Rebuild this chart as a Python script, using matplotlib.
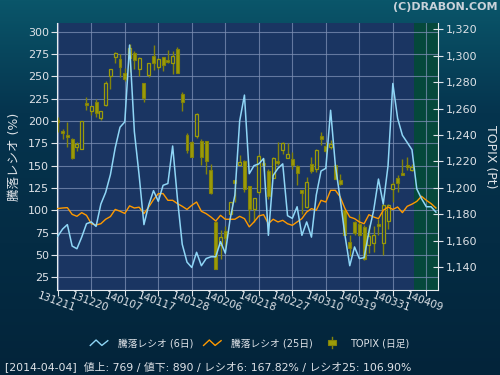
import numpy as np
import matplotlib
matplotlib.use('Agg')
import matplotlib.pyplot as plt
from matplotlib.lines import Line2D
from matplotlib.patches import Rectangle
from matplotlib.legend_handler import HandlerBase
from matplotlib.transforms import blended_transform_factory

plt.rcParams['font.family'] = ['DejaVu Sans', 'Noto Sans CJK JP']

# ---------------- data ----------------
tick_labels = ['131211', '131220', '140107', '140117', '140128', '140206',
               '140218', '140227', '140310', '140319', '140331', '140409']
tick_pos = [0, 7, 14, 21, 28, 35, 42, 49, 56, 63, 70, 77]

ratio6 = [71, 79, 84, 60, 57, 70, 85, 87, 82, 107,
          120, 140, 170, 193, 199, 285, 188, 139, 84, 106,
          122, 110, 128, 130, 172, 113, 62, 42, 36, 53,
          38, 46, 48, 48, 65, 52, 90, 117, 200, 229,
          141, 150, 152, 158, 72, 139, 147, 152, 94, 91,
          104, 72, 87, 70, 117, 144, 147, 212, 150, 113,
          72, 38, 59, 46, 47, 76, 100, 135, 107, 150,
          242, 203, 184, 176, 167.82, 124, 113, 104, 104, 98]

ratio25 = [102, 102.6, 103, 95.5, 93.3, 97.4, 94.4, 85, 83.5, 85,
           90, 93, 101, 99, 96.5, 105, 102.6, 103.5, 96.3, 103.7,
           112, 118.7, 118.7, 111.2, 111.2, 107.5, 104.5, 101, 105.6, 109.3,
           98.9, 96.3, 92.5, 88, 94.4, 90, 90, 90, 93.3, 90.7,
           81.5, 87, 93.7, 95.1, 85, 90, 87, 88.8, 85, 83.2,
           87, 90.7, 98.1, 101.9, 100, 111.2, 109.3, 122.4, 122.4, 115,
           101.9, 92.5, 90.7, 87, 85, 95.1, 92.5, 90.7, 100, 103.7,
           101, 103.7, 97.4, 104.5, 106.9, 110, 115.7, 111.2, 107.5, 102.6]

opens = [1251, 1243.2, 1239.9, 1236.9, 1231, 1229.5, 1264, 1258.3, 1264.9, 1252.8,
         1262.9, 1284.3, 1298.7, 1297.2, 1287.1, 1298, 1302, 1289.6, 1279.3, 1285.1,
         1299.7, 1291.7, 1298.7, 1296.7, 1294.2, 1304.8, 1271, 1240.2, 1234.6, 1239.1,
         1235.4, 1235.1, 1213.6, 1174, 1156.8, 1167.2, 1180.3, 1205.6, 1216.9, 1220,
         1201.3, 1184, 1196.7, 1218.7, 1212.4, 1207.6, 1220.2, 1228.3, 1222.7, 1222,
         1216.4, 1198.2, 1185.4, 1218.2, 1214.4, 1239.1, 1231.6, 1230.8, 1216.9, 1205.6,
         1182.8, 1158.8, 1174, 1172.7, 1170.2, 1156.8, 1158.3, 1172.7, 1158.3, 1174.5,
         1198.7, 1207.6, 1211.1, 1217.4, 1213.1]
highs = [1253.5, 1244.2, 1249.7, 1237.4, 1234.6, 1250.5, 1268.7, 1262, 1266.9, 1258,
         1280.8, 1290, 1302.8, 1301.5, 1290.4, 1309, 1303.3, 1299.2, 1279.5, 1294.5,
         1307.8, 1298, 1299, 1304, 1303.8, 1306.3, 1272.5, 1241.4, 1235.5, 1256.8,
         1236.6, 1235.5, 1217.7, 1174.7, 1167.7, 1171, 1189.5, 1206, 1225, 1221,
         1201.5, 1192.5, 1225.8, 1222, 1214.4, 1223, 1234.6, 1234.6, 1233.8, 1227,
         1217.4, 1198.5, 1208, 1223.2, 1229.5, 1242.2, 1234.6, 1235.9, 1218.2, 1210.6,
         1183, 1163.9, 1174.5, 1180.3, 1171.5, 1171.5, 1171, 1176.5, 1187.9, 1187.9,
         1204.3, 1209.3, 1222, 1223.2, 1218.2]
lows = [1242, 1236.6, 1231, 1222, 1228, 1229, 1258.6, 1255.3, 1253.5, 1251,
        1261.9, 1275, 1294.7, 1283.8, 1281, 1288, 1290.2, 1284.6, 1264.9, 1283.6,
        1289.1, 1290, 1288.6, 1294.7, 1286.4, 1287, 1258.3, 1226.5, 1223.5, 1237.9,
        1216.9, 1210.6, 1195.5, 1138.5, 1146.2, 1153.8, 1180, 1189.1, 1216.9, 1196.7,
        1174, 1174, 1195.5, 1213, 1191.7, 1207, 1216.9, 1225.8, 1222.5, 1214.4,
        1201.8, 1180.3, 1185, 1211, 1211.9, 1232.6, 1226.5, 1229.5, 1206.5, 1201.8,
        1164, 1148.2, 1163.9, 1163.5, 1145.5, 1150.8, 1151.3, 1164.4, 1148.7, 1168.4,
        1189.1, 1196.7, 1209.5, 1213.1, 1213]
closes = [1250, 1241.2, 1238.4, 1222.5, 1233, 1250.3, 1263, 1261.6, 1256.8, 1257.8,
          1279.3, 1289.6, 1302, 1291.4, 1282.6, 1305.8, 1296.5, 1298.2, 1268.2, 1294.2,
          1294.2, 1297.2, 1293.2, 1295.2, 1299.7, 1287.1, 1264.6, 1228.8, 1223.5, 1256,
          1223.2, 1220.5, 1196, 1138.6, 1162.6, 1161.9, 1189.1, 1203.8, 1219.2, 1199.2,
          1183.6, 1192.2, 1223.7, 1216.9, 1193.7, 1222.5, 1218.9, 1233.8, 1225.3, 1216.9,
          1211.4, 1196.2, 1204, 1212.4, 1228.3, 1236.6, 1227.5, 1233.3, 1206.8, 1203,
          1164.4, 1154.5, 1165.9, 1163.9, 1145.7, 1163.1, 1163.9, 1171, 1186.6, 1186.6,
          1202.5, 1203.8, 1209.8, 1215.7, 1215.7]

ratio_ticks = [25, 50, 75, 100, 125, 150, 175, 200, 225, 250, 275, 300]
topix_ticks = [1140, 1160, 1180, 1200, 1220, 1240, 1260, 1280, 1300, 1320]

status = '[2014-04-04]  値上: 769 / 値下: 890 / レシオ6: 167.82% / レシオ25: 106.90%'

# ---------------- styles ----------------
C_PLOT = '#1a3562'
C_GREEN = '#05483b'
C_GRID = '#7d8fb4'
C_TXT = '#dfe3e8'
C_BLUE = '#8fd6f6'
C_ORANGE = '#ff9a00'
C_CANDLE = '#9c9c08'
C_CEDGE = '#83830a'

fig = plt.figure(figsize=(5, 3.75), dpi=100)

# background gradient
bg = fig.add_axes([0, 0, 1, 1], zorder=-10)
t = np.linspace(0, 1, 256)[:, None]
top = np.array([10, 86, 106]) / 255
mid = np.array([5, 52, 78]) / 255
bot = np.array([3, 36, 58]) / 255
w = np.clip(t / 0.3, 0, 1)
w2 = np.clip((t - 0.3) / 0.7, 0, 1)
col = np.where(t < 0.3, top * (1 - w) + mid * w, mid * (1 - w2) + bot * w2)
grad = np.repeat(col[:, None, :], 2, axis=1).reshape(256, 2, 3)
bg.imshow(grad, aspect='auto', extent=[0, 1, 0, 1])
bg.axis('off')

L, R, T, B = 57.3 / 500, 438.3 / 500, 1 - 23 / 375, 1 - 290 / 375
ax2 = fig.add_axes([L, B, R - L, T - B])   # TOPIX (right)
ax = fig.add_axes([L, B, R - L, T - B], sharex=ax2)  # ratio (left)
ax.set_zorder(ax2.get_zorder() + 1)
ax.patch.set_visible(False)
ax2.set_facecolor(C_PLOT)

n = len(ratio6)
x = np.arange(n)
xc = np.arange(len(opens))

ax2.set_xlim(-0.1, 79.5)
ax.set_ylim(10.8, 309.7)
ax2.set_ylim(1122.5, 1324.8)

# green future region
ax2.axvspan(74.35, 79.5, color=C_GREEN, zorder=0.5, lw=0)

# grid (drawn under the candles)
for p in tick_pos:
    ax2.axvline(p, color=C_GRID, lw=0.8, alpha=0.75, zorder=1)
tr = blended_transform_factory(ax2.transAxes, ax.transData)
for v in ratio_ticks:
    ax2.plot([0, 1], [v, v], transform=tr, color=C_GRID, lw=0.8, alpha=0.75, zorder=1)

# candles
o = np.array(opens); c = np.array(closes); h = np.array(highs); lo = np.array(lows)
ax2.vlines(xc, lo, h, color=C_CEDGE, lw=1.0, zorder=2)
up = c >= o
body_b = np.minimum(o, c)
body_h = np.maximum(np.abs(c - o), 0.8)
ax2.bar(xc[~up], body_h[~up], bottom=body_b[~up], width=0.62,
        color=C_CANDLE, edgecolor=C_CEDGE, lw=0.8, zorder=3)
ax2.bar(xc[up], body_h[up], bottom=body_b[up], width=0.62,
        color=C_PLOT, edgecolor=C_CANDLE, lw=0.9, zorder=3)

# ratio lines
ax.plot(x, ratio25, color=C_ORANGE, lw=1.0, zorder=4)
ax.plot(x, ratio6, color=C_BLUE, lw=1.1, zorder=5)

# axes styling
for a in (ax, ax2):
    for s in a.spines.values():
        s.set_visible(False)
ax.spines['left'].set_visible(True)
ax.spines['left'].set_color('#e8ecf0')
ax.spines['bottom'].set_visible(True)
ax.spines['bottom'].set_color('#e8ecf0')
ax2.spines['right'].set_visible(True)
ax2.spines['right'].set_color('#e8ecf0')

ax.set_yticks(ratio_ticks)
ax.set_yticklabels([str(v) for v in ratio_ticks])
ax.tick_params(axis='y', left=True, right=False, labelleft=True, labelright=False,
               colors=C_TXT, labelsize=8, length=4, width=0.8, direction='out', pad=2)
ax2.yaxis.tick_right()
ax2.set_yticks(topix_ticks)
ax2.set_yticklabels([f'{v:,}' for v in topix_ticks])
ax2.tick_params(axis='y', right=True, left=False, labelright=True, labelleft=False,
                colors=C_TXT, labelsize=8, length=7, width=0.8, direction='inout', pad=2)

ax.set_xticks(tick_pos)
ax.set_xticklabels(tick_labels, rotation=-20, rotation_mode='anchor', ha='center', va='top')
ax.tick_params(axis='x', colors=C_TXT, labelsize=7.5, length=4, width=0.8, direction='out', pad=1)
ax2.tick_params(axis='x', bottom=False, labelbottom=False)

ax.set_ylabel('騰落レシオ (%)', color=C_TXT, fontsize=9, labelpad=5)
ax2.yaxis.set_label_position('right')
ax2.set_ylabel('TOPIX (Pt)', color=C_TXT, fontsize=9, rotation=-90, labelpad=14)

fig.text(0.994, 0.981, '(C)DRABON.COM', color='#c9d2da', fontsize=8, fontweight='bold',
         ha='right', va='center')
fig.text(0.01, 0.022, status, color=C_TXT, fontsize=7.8, ha='left', va='center')


# legend
class ZigZag(HandlerBase):
    def create_artists(self, legend, orig_handle, xdescent, ydescent, width, height, fontsize, trans):
        xs = np.array([0.0, 0.33, 0.66, 1.0]) * width - xdescent
        ys = np.array([0.1, 0.9, 0.1, 0.8]) * height - ydescent
        ln = Line2D(xs, ys, color=orig_handle.get_color(), lw=orig_handle.get_linewidth())
        ln.set_transform(trans)
        return [ln]


class CandleIcon(HandlerBase):
    def create_artists(self, legend, orig_handle, xdescent, ydescent, width, height, fontsize, trans):
        cx = width / 2 - xdescent
        wick = Line2D([cx, cx], [-ydescent - 0.3 * height, height * 1.3 - ydescent],
                      color=C_CEDGE, lw=1.0)
        wick.set_transform(trans)
        r = Rectangle((cx - 3, -ydescent + 0.1 * height), 6, 0.8 * height,
                      facecolor=C_CANDLE, edgecolor=C_CEDGE, lw=0.8)
        r.set_transform(trans)
        return [wick, r]


h6 = Line2D([], [], color=C_BLUE, lw=1.0)
h25 = Line2D([], [], color=C_ORANGE, lw=1.0)
hc = Line2D([], [], color=C_CANDLE)
leg = fig.legend([h6, h25, hc], ['騰落レシオ (6日)', '騰落レシオ (25日)', 'TOPIX (日足)'],
                 loc='center', bbox_to_anchor=(0.5, 0.085), ncol=3, frameon=False,
                 fontsize=7, handlelength=1.8, columnspacing=1.1, handletextpad=1.0,
                 labelcolor=C_TXT,
                 handler_map={h6: ZigZag(), h25: ZigZag(), hc: CandleIcon()})

fig.savefig('out.png', dpi=100)
